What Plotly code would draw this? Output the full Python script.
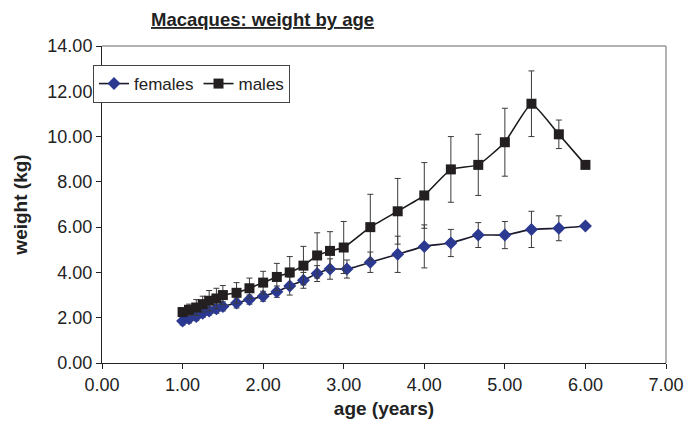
import plotly.graph_objects as go

# Data
fem_age = [1.00, 1.08, 1.17, 1.25, 1.33, 1.42, 1.50, 1.67, 1.83, 2.00, 2.17, 2.33, 2.50,
           2.67, 2.83, 3.04, 3.33, 3.67, 4.00, 4.33, 4.67, 5.00, 5.33, 5.67, 6.00]
fem_wt = [1.85, 1.95, 2.05, 2.20, 2.30, 2.40, 2.50, 2.65, 2.80, 2.95, 3.15, 3.40, 3.65,
          3.95, 4.15, 4.15, 4.45, 4.80, 5.15, 5.30, 5.65, 5.65, 5.90, 5.95, 6.05]
fem_err = [0.17, 0.18, 0.18, 0.18, 0.18, 0.20, 0.20, 0.22, 0.20, 0.22, 0.25, 0.40, 0.35,
           0.35, 0.45, 0.40, 0.45, 0.80, 0.95, 0.60, 0.55, 0.60, 0.80, 0.55, 0.0]

male_age = [1.00, 1.08, 1.17, 1.25, 1.33, 1.42, 1.50, 1.67, 1.83, 2.00, 2.17, 2.33, 2.50,
            2.67, 2.83, 3.00, 3.33, 3.67, 4.00, 4.33, 4.67, 5.00, 5.33, 5.67, 6.00]
male_wt = [2.25, 2.35, 2.45, 2.60, 2.75, 2.85, 3.00, 3.10, 3.30, 3.55, 3.80, 4.00, 4.30,
           4.75, 4.95, 5.10, 6.00, 6.70, 7.40, 8.55, 8.75, 9.75, 11.45, 10.10, 8.75]
male_err = [0.15, 0.25, 0.35, 0.35, 0.45, 0.45, 0.42, 0.45, 0.45, 0.50, 0.60, 0.70, 0.85,
            1.00, 0.85, 1.15, 1.45, 1.45, 1.45, 1.45, 1.35, 1.50, 1.45, 0.63, 0.0]

FONT = "Liberation Sans, Arial, sans-serif"
ERRC = "#3a3a3a"

fig = go.Figure()
fig.add_trace(go.Scatter(
    x=fem_age, y=fem_wt, name="females", mode="lines+markers",
    line=dict(color="#1a1a2e", width=1.6, shape="spline", smoothing=0.4),
    marker=dict(symbol="diamond", size=10, color="#2B3990"),
    error_y=dict(type="data", array=fem_err, visible=True, color=ERRC, thickness=1, width=3),
))
fig.add_trace(go.Scatter(
    x=male_age, y=male_wt, name="males", mode="lines+markers",
    line=dict(color="#1a1a1a", width=1.6, shape="spline", smoothing=0.4),
    marker=dict(symbol="square", size=10, color="#231F20"),
    error_y=dict(type="data", array=male_err, visible=True, color=ERRC, thickness=1, width=3),
))

fig.update_layout(
    width=694, height=431,
    margin=dict(l=102, r=28, t=46, b=68, autoexpand=False),
    paper_bgcolor="white", plot_bgcolor="white",
    font=dict(family=FONT, size=18, color="#222"),
    showlegend=True,
    legend=dict(orientation="h", x=-0.016, y=0.94, xanchor="left", yanchor="top",
                bgcolor="white", bordercolor="#444", borderwidth=1,
                font=dict(size=17, family=FONT), itemwidth=30, tracegroupgap=0),
    annotations=[
        dict(text="<b><u>Macaques: weight by age</u></b>", x=0.285, y=1.0, xref="paper", yref="paper",
             xanchor="center", yanchor="middle", yshift=27, showarrow=False,
             font=dict(size=18.5, family=FONT, color="#222")),
    ],
)
fig.update_xaxes(range=[0, 7], dtick=1, tickformat=".2f", ticks="outside", ticklen=5,
                 tickcolor="#222", showline=True, linecolor="#222", linewidth=1, mirror=False,
                 showgrid=False, zeroline=False, automargin=False,
                 title=dict(text="<b>age (years)</b>", font=dict(size=19, family=FONT), standoff=8))
fig.update_yaxes(range=[0, 14], dtick=2, tickformat=".2f", ticks="outside", ticklen=5,
                 tickcolor="#222", showline=True, linecolor="#222", linewidth=1,
                 showgrid=False, zeroline=False, automargin=False,
                 title=dict(text="<b>weight (kg)</b>", font=dict(size=19, family=FONT), standoff=14))
# top/right gray frame of plot area
fig.add_shape(type="line", xref="paper", yref="paper", x0=0, x1=1, y0=1, y1=1,
              line=dict(color="#999", width=1.5))
fig.add_shape(type="line", xref="paper", yref="paper", x0=1, x1=1, y0=0, y1=1,
              line=dict(color="#999", width=1.5))

fig.write_html("out.html", config={"displayModeBar": False},
               post_script="document.body.style.margin='0';")
